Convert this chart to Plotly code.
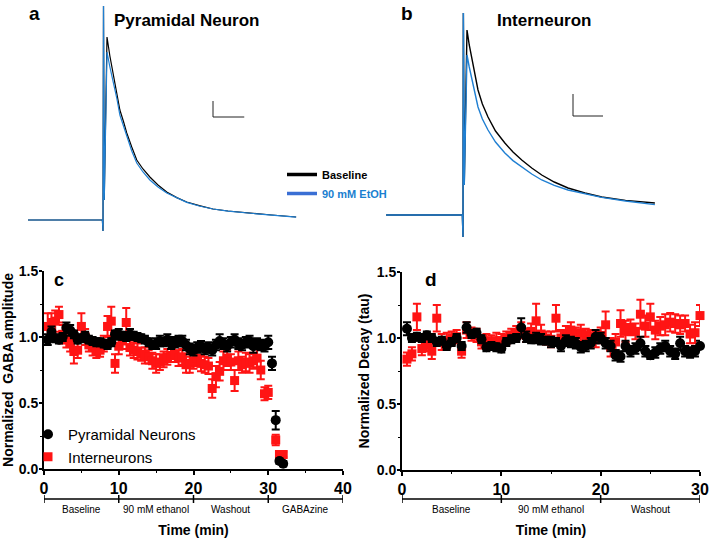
import plotly.graph_objects as go

FONT = "Liberation Sans, Arial, sans-serif"

# ---------------- Panel a / b : example traces (ms, pA) ----------------
pyr_t = [-120, -1, 0, 0.8, 2, 6.4, 11, 16, 22, 27, 33, 38, 46, 54, 64, 75, 88, 102, 118, 134, 154, 176, 200, 230, 270, 309]
pyr_base = [0, 0, -55, 1070, 100, 915, 820, 735, 640, 550, 490, 435, 365, 300, 255, 215, 175, 140, 112, 90, 72, 55, 45, 35, 25, 15]
pyr_etoh = [0, 0, -55, 1070, 100, 840, 765, 700, 610, 525, 465, 415, 345, 285, 240, 200, 165, 135, 110, 88, 70, 55, 44, 34, 24, 14]

int_t = [-123, -1, 0, 0.6, 2, 6.4, 10, 14.4, 19, 24, 31, 40, 52, 67, 80, 94, 110, 126, 146, 168, 195, 222, 260, 307]
int_base = [0, 0, -110, 1010, 150, 925, 850, 775, 700, 625, 555, 490, 420, 360, 315, 275, 235, 200, 165, 135, 110, 90, 73, 60]
int_etoh = [0, 0, -110, 1010, 150, 800, 740, 675, 605, 540, 480, 425, 365, 310, 272, 240, 205, 175, 148, 125, 105, 88, 70, 52]

# scale bars: [x0 (ms), y0 (pA), length ms, length pA]
scale_a = [176, 515, 50, 80]
scale_b = [176, 495, 48, 110]

# ---------------- Panel c / d : time course ----------------
time_min = [0.5, 1.0, 1.5, 2.0, 2.5, 3.0, 3.5, 4.0, 4.5, 5.0,
            5.5, 6.0, 6.5, 7.0, 7.5, 8.0, 8.5, 9.0, 9.5, 10.0,
            10.5, 11.0, 11.5, 12.0, 12.5, 13.0, 13.5, 14.0, 14.5, 15.0,
            15.5, 16.0, 16.5, 17.0, 17.5, 18.0, 18.5, 19.0, 19.5, 20.0,
            20.5, 21.0, 21.5, 22.0, 22.5, 23.0, 23.5, 24.0, 24.5, 25.0,
            25.5, 26.0, 26.5, 27.0, 27.5, 28.0, 28.5, 29.0, 29.5, 30.0]

pyr_amp = [0.98, 1.04, 0.99, 0.98, 1.00, 1.07, 1.05, 1.02, 0.98, 0.99,
           1.01, 0.98, 0.97, 0.96, 0.96, 0.95, 0.94, 0.96, 1.02, 1.02,
           1.01, 1.00, 1.02, 1.01, 1.00, 0.99, 0.98, 0.96, 0.94, 0.95,
           0.97, 0.96, 0.98, 0.95, 0.96, 0.97, 0.97, 0.94, 0.91, 0.90,
           0.92, 0.93, 0.91, 0.92, 0.90, 0.94, 0.97, 0.95, 0.93, 0.96,
           0.98, 0.95, 0.94, 0.96, 0.97, 0.93, 0.95, 0.94, 0.93, 0.96]
pyr_amp_err = [0.04, 0.04, 0.03, 0.03, 0.03, 0.04, 0.04, 0.03, 0.03, 0.03,
               0.03, 0.03, 0.03, 0.03, 0.03, 0.03, 0.03, 0.03, 0.03, 0.04,
               0.03, 0.03, 0.04, 0.03, 0.03, 0.03, 0.03, 0.03, 0.03, 0.04,
               0.04, 0.03, 0.04, 0.04, 0.04, 0.04, 0.04, 0.04, 0.04, 0.04,
               0.04, 0.04, 0.04, 0.04, 0.04, 0.04, 0.05, 0.04, 0.04, 0.04,
               0.04, 0.04, 0.04, 0.04, 0.04, 0.05, 0.04, 0.04, 0.04, 0.05]

int_amp = [1.08, 1.11, 1.12, 1.17, 1.02, 0.98, 0.95, 0.89, 0.90, 1.08,
           1.00, 0.94, 0.92, 0.89, 0.90, 0.95, 1.08, 1.12, 0.80, 0.93,
           0.97, 1.11, 0.92, 0.90, 0.89, 0.87, 0.86, 0.85, 0.82, 0.80,
           0.81, 0.83, 0.85, 0.86, 0.87, 0.84, 0.85, 0.79, 0.80, 0.82,
           0.84, 0.80, 0.79, 0.78, 0.61, 0.70, 0.74, 0.82, 0.84, 0.81,
           0.67, 0.82, 0.79, 0.81, 0.80, 0.82, 0.84, 0.75, 0.57, 0.58]
int_amp_err = [0.10, 0.07, 0.08, 0.06, 0.07, 0.06, 0.06, 0.09, 0.06, 0.10,
               0.06, 0.05, 0.06, 0.05, 0.05, 0.06, 0.08, 0.11, 0.07, 0.06,
               0.06, 0.11, 0.06, 0.06, 0.06, 0.05, 0.06, 0.05, 0.06, 0.07,
               0.06, 0.06, 0.06, 0.05, 0.06, 0.06, 0.06, 0.06, 0.07, 0.06,
               0.06, 0.06, 0.06, 0.06, 0.07, 0.08, 0.07, 0.07, 0.06, 0.06,
               0.08, 0.07, 0.06, 0.07, 0.07, 0.06, 0.07, 0.07, 0.05, 0.05]

# GABAzine block
gz_time_pyr = [30.5, 31.0, 31.5, 32.0]
gz_pyr = [0.80, 0.37, 0.06, 0.04]
gz_pyr_err = [0.05, 0.07, 0.02, 0.02]
gz_time_int = [31.0, 31.5, 32.0]
gz_int = [0.22, 0.11, 0.11]
gz_int_err = [0.04, 0.02, 0.02]

pyr_tau = [1.07, 1.00, 1.01, 1.00, 1.02, 1.00, 0.97, 0.98, 0.94, 0.97,
           1.00, 0.94, 1.08, 1.03, 1.04, 0.99, 0.93, 0.94, 0.93, 0.92,
           0.97, 0.99, 1.00, 1.08, 1.01, 0.99, 1.00, 0.99, 0.98, 0.97,
           0.97, 0.94, 0.98, 0.97, 0.96, 0.93, 0.94, 0.96, 1.01, 1.00,
           0.96, 0.94, 0.87, 0.86, 0.94, 0.90, 0.92, 0.96, 0.90, 0.87,
           0.89, 0.92, 0.94, 0.90, 0.88, 0.96, 0.90, 0.89, 0.90, 0.94]
pyr_tau_err = [0.05, 0.03, 0.03, 0.03, 0.03, 0.03, 0.03, 0.03, 0.03, 0.03,
               0.03, 0.03, 0.04, 0.03, 0.03, 0.03, 0.03, 0.03, 0.03, 0.03,
               0.03, 0.03, 0.03, 0.07, 0.04, 0.03, 0.04, 0.04, 0.03, 0.04,
               0.03, 0.04, 0.04, 0.04, 0.04, 0.04, 0.04, 0.04, 0.05, 0.04,
               0.04, 0.04, 0.04, 0.04, 0.04, 0.04, 0.04, 0.05, 0.04, 0.03,
               0.04, 0.04, 0.04, 0.04, 0.04, 0.05, 0.04, 0.04, 0.04, 0.04]

int_tau = [0.84, 0.88, 1.16, 0.92, 0.95, 0.90, 1.15, 0.97, 0.98, 1.00,
           1.01, 0.90, 1.06, 1.03, 1.02, 0.97, 0.98, 0.97, 0.98, 0.98,
           1.00, 1.02, 1.04, 1.06, 1.02, 1.05, 1.13, 1.03, 1.00, 0.99,
           1.15, 1.00, 1.03, 1.06, 1.03, 1.04, 1.02, 1.01, 0.99, 1.02,
           1.10, 0.93, 0.97, 1.11, 1.05, 1.08, 1.05, 1.18, 1.09, 1.16,
           1.06, 1.09, 1.10, 1.12, 1.11, 1.10, 1.11, 1.03, 1.04, 1.17]
int_tau_err = [0.05, 0.05, 0.10, 0.05, 0.05, 0.06, 0.10, 0.06, 0.06, 0.05,
               0.05, 0.05, 0.06, 0.05, 0.05, 0.05, 0.05, 0.05, 0.06, 0.05,
               0.05, 0.05, 0.05, 0.06, 0.05, 0.06, 0.13, 0.07, 0.05, 0.06,
               0.10, 0.06, 0.06, 0.06, 0.05, 0.06, 0.05, 0.05, 0.06, 0.06,
               0.10, 0.07, 0.06, 0.10, 0.08, 0.06, 0.06, 0.11, 0.08, 0.10,
               0.07, 0.07, 0.08, 0.07, 0.07, 0.07, 0.06, 0.07, 0.08, 0.08]

phase_edges_c = [0, 10, 20, 30, 40]
phase_labels_c = ["Baseline", "90 mM ethanol", "Washout", "GABAzine"]
phase_edges_d = [0, 10, 20, 30]
phase_labels_d = ["Baseline", "90 mM ethanol", "Washout"]

BLACK = "#000000"
BLUE = "#1f7fd2"
RED = "#ff1414"

fig = go.Figure()

# ---- traces a ----
fig.add_trace(go.Scatter(x=pyr_t, y=pyr_base, mode="lines", line=dict(color=BLACK, width=1.2),
                         xaxis="x3", yaxis="y3", showlegend=False))
fig.add_trace(go.Scatter(x=pyr_t, y=pyr_etoh, mode="lines", line=dict(color=BLUE, width=1.2),
                         xaxis="x3", yaxis="y3", showlegend=False))
# ---- traces b ----
fig.add_trace(go.Scatter(x=int_t, y=int_base, mode="lines", line=dict(color=BLACK, width=1.4),
                         xaxis="x4", yaxis="y4", showlegend=False))
fig.add_trace(go.Scatter(x=int_t, y=int_etoh, mode="lines", line=dict(color=BLUE, width=1.4),
                         xaxis="x4", yaxis="y4", showlegend=False))
# legend entries for a/b
fig.add_trace(go.Scatter(x=[None], y=[None], mode="lines", line=dict(color=BLACK, width=3.5),
                         xaxis="x3", yaxis="y3", name="Baseline", legend="legend2"))
fig.add_trace(go.Scatter(x=[None], y=[None], mode="lines", line=dict(color="#3a6fd4", width=3.5),
                         xaxis="x3", yaxis="y3", name="<span style='color:#1a80d0'>90 mM EtOH</span>",
                         legend="legend2"))

# ---- panel c ----
fig.add_trace(go.Scatter(x=time_min + gz_time_int, y=int_amp + gz_int, mode="markers",
                         marker=dict(symbol="square", size=9, color=RED),
                         error_y=dict(type="data", array=int_amp_err + gz_int_err, color=RED, thickness=2, width=4),
                         name="Interneurons", xaxis="x", yaxis="y", cliponaxis=False, legendrank=2))
fig.add_trace(go.Scatter(x=time_min + gz_time_pyr, y=pyr_amp + gz_pyr, mode="markers",
                         marker=dict(symbol="circle", size=10, color=BLACK),
                         error_y=dict(type="data", array=pyr_amp_err + gz_pyr_err, color=BLACK, thickness=2, width=4),
                         name="Pyramidal Neurons", xaxis="x", yaxis="y", cliponaxis=False, legendrank=1))
# ---- panel d ----
fig.add_trace(go.Scatter(x=time_min, y=int_tau, mode="markers",
                         marker=dict(symbol="square", size=9, color=RED),
                         error_y=dict(type="data", array=int_tau_err, color=RED, thickness=2, width=4),
                         showlegend=False, xaxis="x2", yaxis="y2", cliponaxis=False))
fig.add_trace(go.Scatter(x=time_min, y=pyr_tau, mode="markers",
                         marker=dict(symbol="circle", size=10, color=BLACK),
                         error_y=dict(type="data", array=pyr_tau_err, color=BLACK, thickness=2, width=4),
                         showlegend=False, xaxis="x2", yaxis="y2", cliponaxis=False))

shapes = []
annotations = []

# scale bars
for sb, xr, yr in [(scale_a, "x3", "y3"), (scale_b, "x4", "y4")]:
    x0, y0, lx, ly = sb
    shapes.append(dict(type="line", xref=xr, yref=yr, x0=x0, x1=x0, y0=y0, y1=y0 + ly,
                       line=dict(color="#222222", width=1)))
    shapes.append(dict(type="line", xref=xr, yref=yr, x0=x0, x1=x0 + lx, y0=y0, y1=y0,
                       line=dict(color="#222222", width=1)))

# phase brackets
BR_Y = 1 - 499 / 538
BR_T = 4 / 538
LAB_Y = 1 - 509 / 538
for edges, labels, xr in [(phase_edges_c, phase_labels_c, "x"), (phase_edges_d, phase_labels_d, "x2")]:
    shapes.append(dict(type="line", xref=xr, yref="paper", x0=edges[0], x1=edges[-1], y0=BR_Y, y1=BR_Y,
                       line=dict(color=BLACK, width=1.5)))
    for e in edges:
        shapes.append(dict(type="line", xref=xr, yref="paper", x0=e, x1=e, y0=BR_Y - BR_T, y1=BR_Y + BR_T,
                           line=dict(color=BLACK, width=1.5)))
    for i, lab in enumerate(labels):
        annotations.append(dict(text=lab, xref=xr, yref="paper", x=(edges[i] + edges[i + 1]) / 2, y=LAB_Y,
                                showarrow=False, xanchor="center", yanchor="middle",
                                font=dict(family=FONT, size=10, color=BLACK)))

def txt(s, x, y, size, xanchor="left", weight="bold", color=BLACK):
    annotations.append(dict(text=s, xref="paper", yref="paper", x=x / 709, y=1 - y / 538, showarrow=False,
                            xanchor=xanchor, yanchor="middle",
                            font=dict(family=FONT, size=size, color=color, weight=weight)))

txt("a", 27, 14, 19)
txt("Pyramidal Neuron", 112, 21, 17)
txt("b", 399, 14, 19)
txt("Interneuron", 544, 21, 17, xanchor="center")
txt("c", 52, 280, 18)
txt("d", 423, 279, 19)

fig.update_layout(shapes=shapes, annotations=annotations)

tickfont_y = dict(family=FONT, size=14, color=BLACK, weight="bold")
tickfont_x = dict(family=FONT, size=16, color=BLACK, weight="bold")
title_font = dict(family=FONT, size=14, color=BLACK, weight="bold")

common_x = dict(showline=True, linecolor=BLACK, linewidth=2, ticks="outside", ticklen=4, tickwidth=2,
                tickcolor=BLACK, showgrid=False, zeroline=False, tickfont=tickfont_x, automargin=False,
                minor=dict(ticks="outside", ticklen=2, tickwidth=1, dtick=5, tickcolor=BLACK))
common_y = dict(showline=True, linecolor=BLACK, linewidth=2, ticks="outside", ticklen=3, tickwidth=2,
                tickcolor=BLACK, showgrid=False, zeroline=False, tickfont=tickfont_y, automargin=False,
                ticklabelstandoff=-2,
                range=[0, 1.5], tickvals=[0, 0.5, 1.0, 1.5], ticktext=["0.0", "0.5", "1.0", "1.5"],
                minor=dict(ticks="outside", ticklen=2, tickwidth=1, dtick=0.25, tickcolor=BLACK))

hidden = dict(visible=False, showgrid=False, zeroline=False, fixedrange=True, automargin=False)

fig.update_layout(
    template="none",
    width=709, height=538, autosize=False,
    margin=dict(l=0, r=0, t=0, b=0, autoexpand=False),
    paper_bgcolor="white", plot_bgcolor="white",
    font=dict(family=FONT, color=BLACK),
    xaxis=dict(domain=[44 / 709, 343 / 709], range=[0, 40], tickvals=[0, 10, 20, 30, 40],
               title=dict(text="Time (min)", font=title_font, standoff=29), anchor="y", **common_x),
    yaxis=dict(domain=[1 - 469 / 538, 1 - 271 / 538], anchor="x",
               title=dict(text="Normalized  GABA amplitude", font=title_font, standoff=3), **common_y),
    xaxis2=dict(domain=[402 / 709, 700 / 709], range=[0, 30], tickvals=[0, 10, 20, 30],
                title=dict(text="Time (min)", font=title_font, standoff=29), anchor="y2", **common_x),
    yaxis2=dict(domain=[1 - 470 / 538, 1 - 272 / 538], anchor="x2",
                title=dict(text="Normalized Decay (tau)", font=title_font, standoff=4), **common_y),
    xaxis3=dict(domain=[20 / 709, 300 / 709], range=[-132.8, 315.2], anchor="y3", **hidden),
    yaxis3=dict(domain=[1 - 240 / 538, 1.0], range=[-100, 1100], anchor="x3", **hidden),
    xaxis4=dict(domain=[380 / 709, 660 / 709], range=[-132.8, 315.2], anchor="y4", **hidden),
    yaxis4=dict(domain=[1 - 240 / 538, 1.0], range=[-125, 1075], anchor="x4", **hidden),
    legend=dict(x=28 / 709, y=1 - 418 / 538, xanchor="left", yanchor="top", bgcolor="rgba(0,0,0,0)",
                font=dict(family=FONT, size=15, color=BLACK), itemwidth=30, tracegroupgap=0,
                traceorder="normal"),
    legend2=dict(x=282 / 709, y=1 - 160 / 538, xanchor="left", yanchor="top", bgcolor="rgba(0,0,0,0)",
                 font=dict(family=FONT, size=11, color=BLACK, weight="bold"), itemwidth=30, tracegroupgap=0),
)

fig.write_html("out.html", config={"displayModeBar": False},
               post_script="document.body.style.margin='0';document.body.style.overflow='hidden';")
